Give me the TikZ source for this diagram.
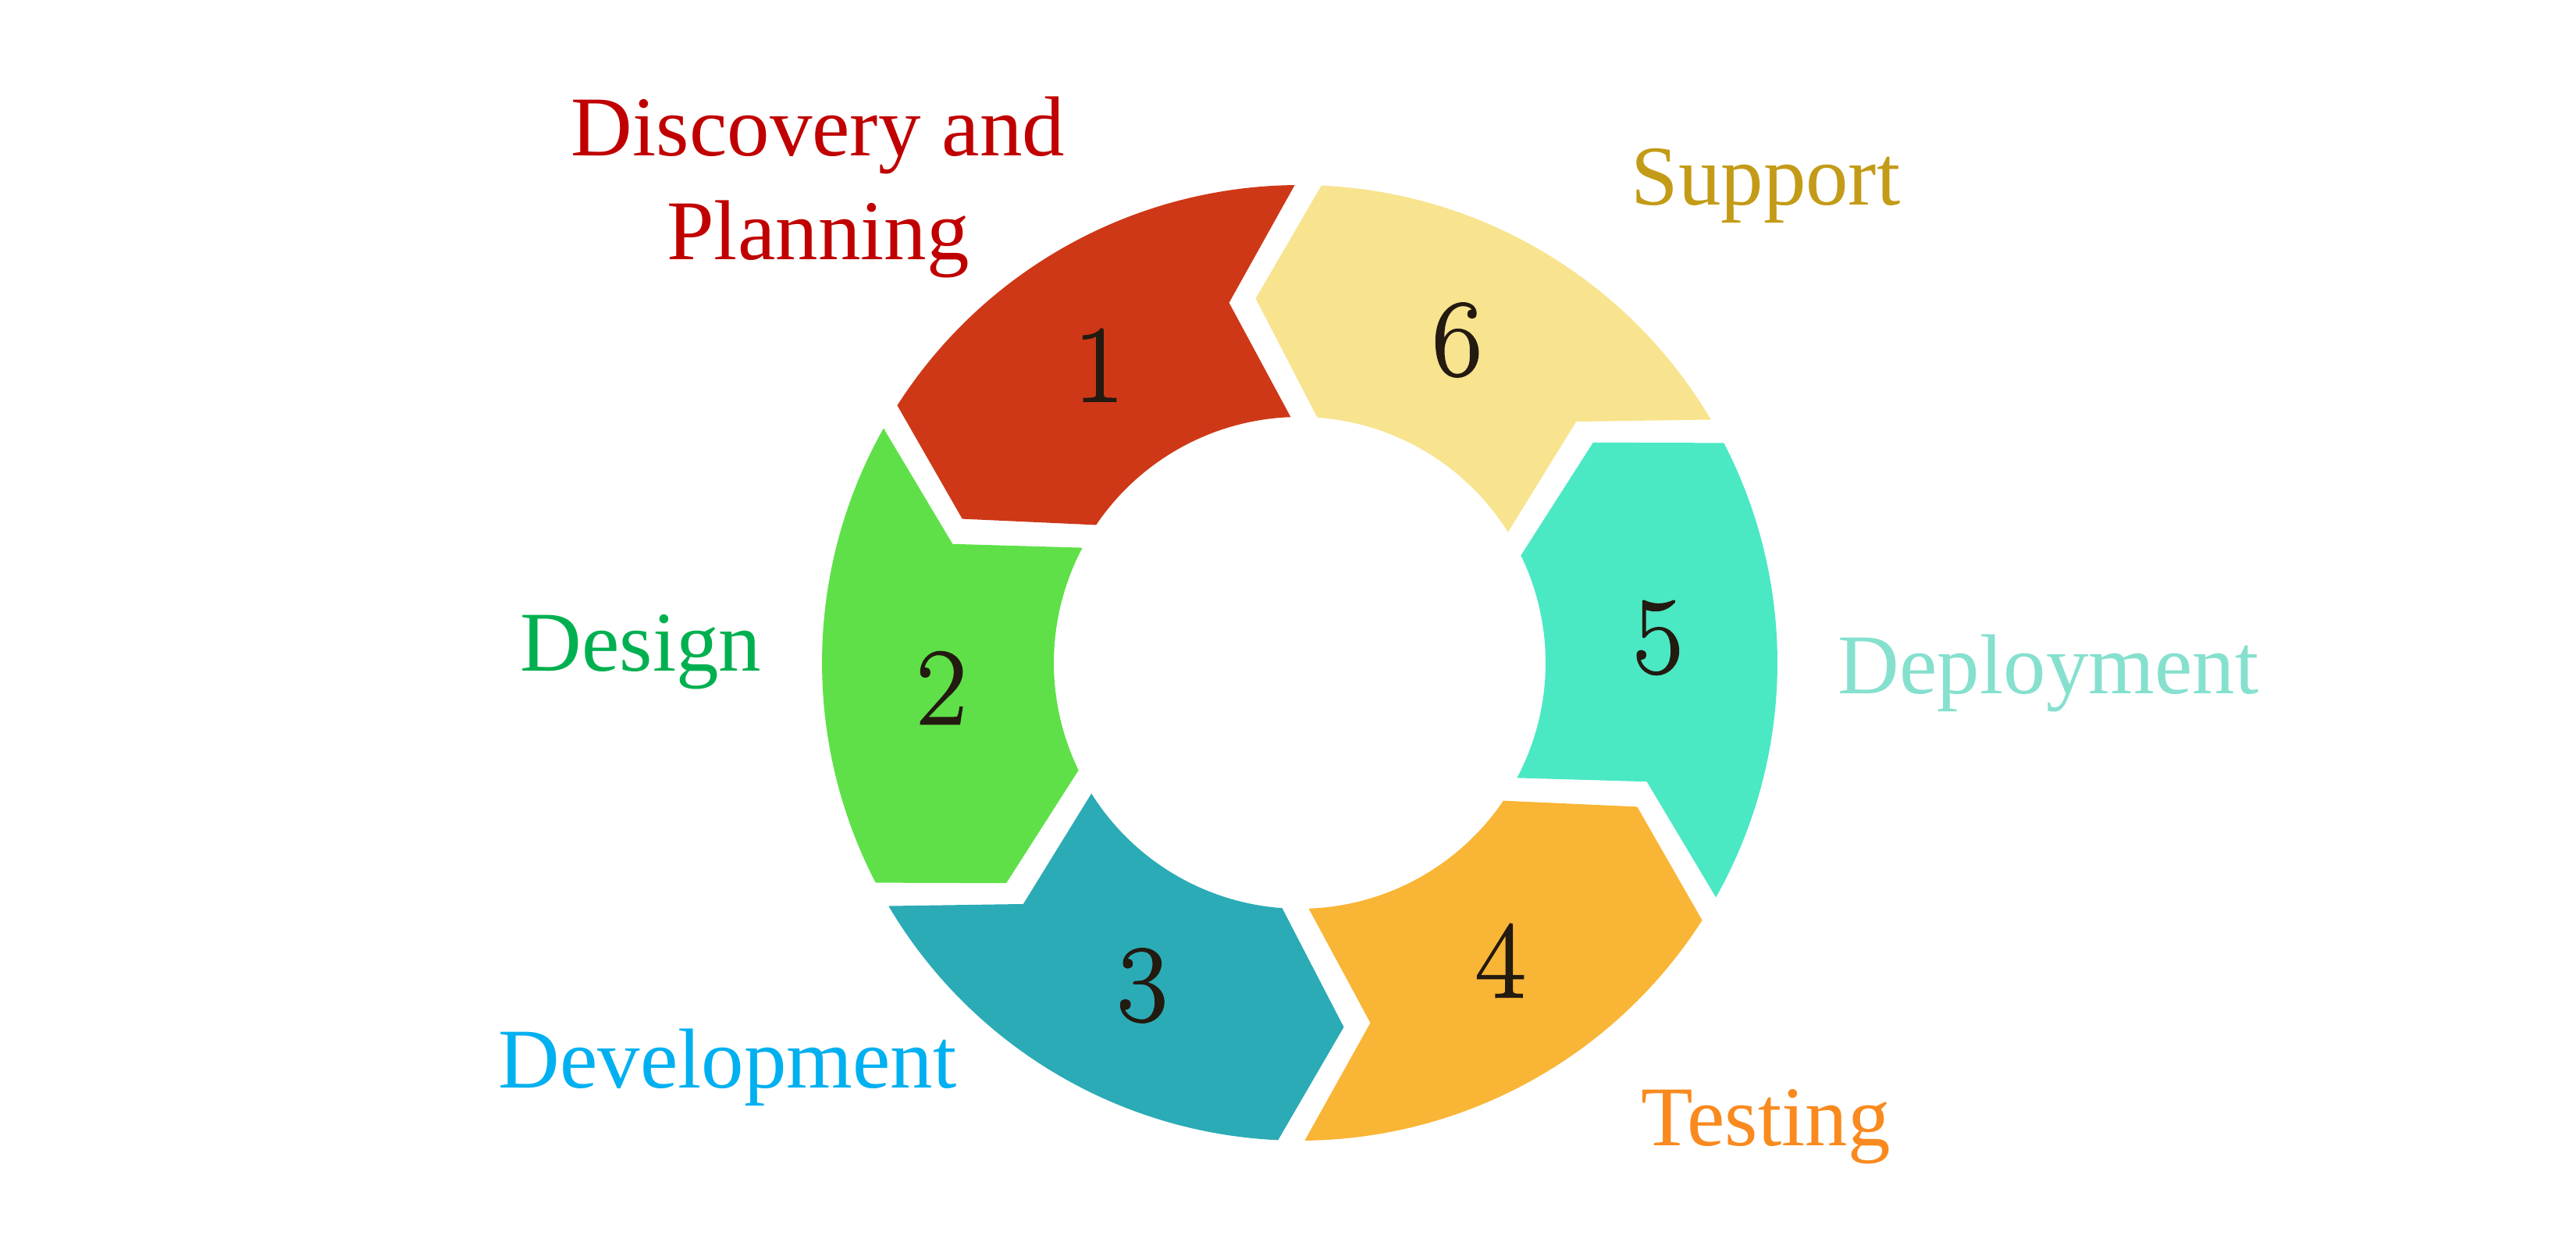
\documentclass[tikz,border=0pt]{standalone}
\usepackage{fontspec}
\usepackage{xcolor}
\newfontfamily\labelfont{Liberation Serif}
\newfontfamily\numfont[FakeBold=1.3]{Latin Modern Roman}

\definecolor{planfill}{HTML}{CE3817}
\definecolor{designfill}{HTML}{5FE048}
\definecolor{devfill}{HTML}{2BABB5}
\definecolor{testfill}{HTML}{F9B535}
\definecolor{deployfill}{HTML}{4BE8C4}
\definecolor{supportfill}{HTML}{F8E38F}
\definecolor{plantext}{HTML}{C00000}
\definecolor{designtext}{HTML}{00B050}
\definecolor{devtext}{HTML}{00B0F0}
\definecolor{testtext}{HTML}{F98A1F}
\definecolor{deploytext}{HTML}{86E0CE}
\definecolor{supporttext}{HTML}{C39B17}
\definecolor{numink}{HTML}{231A10}

% ring sizes (cm) and half gap (deg) at outer / middle / inner radius
\newcommand{\ringout}{6.12}
\newcommand{\ringmid}{4.7}
\newcommand{\ringin}{3.15}
\newcommand{\tipturn}{10}
\newcommand{\gapout}{1.6}
\newcommand{\gapmid}{2.1}
\newcommand{\gapin}{3.1}

% one arrow piece of the ring: #1 = angle where it starts, #2 = colour
\newcommand{\ringpiece}[2]{%
  \fill[#2] ({#1+\gapout}:\ringout)
    arc[start angle=#1+\gapout, end angle=#1+60-\gapout, radius=\ringout]
    -- ({#1+60+\tipturn-\gapmid}:\ringmid)
    -- ({#1+60-\gapin}:\ringin)
    arc[start angle=#1+60-\gapin, end angle=#1+\gapin, radius=\ringin]
    -- ({#1+\tipturn+\gapmid}:\ringmid) -- cycle;}

\tikzset{
    num/.style={font=\numfont\fontsize{40}{40}\selectfont, text=numink},
    phase/.style={font=\labelfont\fontsize{31}{37.8}\selectfont, align=center, anchor=base, inner sep=0pt},
}

\begin{document}
\begin{tikzpicture}
    \useasboundingbox (0,0) rectangle (33,15.95);

    \begin{scope}[shift={(16.65,7.46)}]
        \ringpiece{-31}{deployfill}
        \ringpiece{29}{supportfill}
        \ringpiece{89}{planfill}
        \ringpiece{149}{designfill}
        \ringpiece{209}{devfill}
        \ringpiece{269}{testfill}

        \node[num] (n1) at (124:4.6) {1};
        \node[num] (n2) at (184:4.6) {2};
        \node[num] (n3) at (244:4.6) {3};
        \node[num] (n4) at (304:4.6) {4};
        \node[num] (n5) at (4:4.6)   {5};
        \node[num] (n6) at (64:4.6)  {6};
    \end{scope}

    % phase names round the ring
    \node[phase, text=plantext]    (plan)    at (10.48,12.63) {Discovery and\\Planning};
    \node[phase, text=supporttext] (support) at (22.62,13.32) {Support};
    \node[phase, text=designtext]  (design)  at (8.21,7.36)   {Design};
    \node[phase, text=deploytext]  (deploy)  at (26.24,7.07)  {Deployment};
    \node[phase, text=devtext]     (dev)     at (9.32,2.02)   {Development};
    \node[phase, text=testtext]    (test)    at (22.62,1.28)  {Testing};
\end{tikzpicture}
\end{document}
